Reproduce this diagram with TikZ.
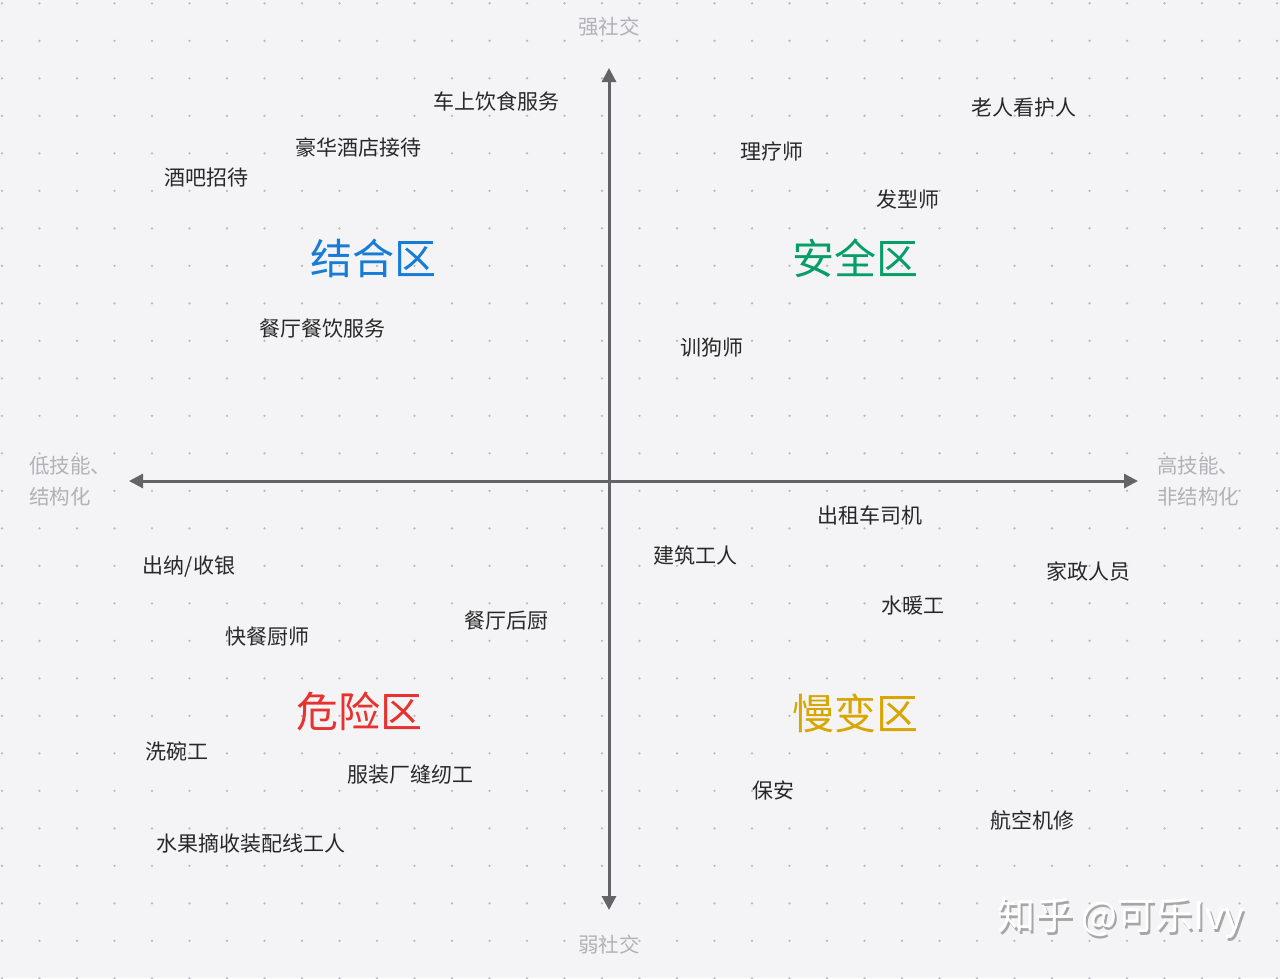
\documentclass[tikz,border=0pt]{standalone}
\usepackage{fontspec}
\setmainfont{Noto Sans CJK SC}
\usepackage{tikz}
\usetikzlibrary{arrows.meta}
\usepackage{xcolor}
\definecolor{bggray}{RGB}{244,244,246}
\definecolor{dotgray}{RGB}{185,185,190}
\definecolor{axisgray}{RGB}{100,100,104}
\definecolor{lblgray}{RGB}{178,178,182}
\definecolor{txtdark}{RGB}{40,40,40}
\definecolor{zoneblue}{RGB}{22,124,214}
\definecolor{zonegreen}{RGB}{6,158,104}
\definecolor{zonered}{RGB}{232,50,46}
\definecolor{zoneyellow}{RGB}{216,166,0}
\tikzset{
  job/.style     ={text=txtdark, font=\fontsize{21}{25}\selectfont, inner sep=0pt},
  zone/.style    ={font=\fontsize{42}{48}\selectfont, inner sep=0pt},
  axislbl/.style ={text=lblgray, font=\fontsize{20.5}{31}\selectfont, inner sep=0pt,
                   align=left},
  axisline/.style={{Triangle[length=14pt,width=14pt]}-{Triangle[length=14pt,width=14pt]},
                   line width=3pt, draw=axisgray},
  wmark/.style   ={font=\fontsize{38}{42}\selectfont, inner sep=0pt},
}

\begin{document}
\begin{tikzpicture}[x=1pt, y=-1pt]
  \useasboundingbox[fill=bggray] (0,0) rectangle (1280,978);
  % dot grid
  \foreach \i in {0,...,34}
    \foreach \j in {0,...,26}
      \fill[dotgray] (2+37.5*\i, 3.3+37.5*\j) circle (1.3);

  % axes
  \coordinate (ytop) at (609,68);
  \coordinate (ybot) at (609,910);
  \coordinate (xlft) at (129,481);
  \coordinate (xrgt) at (1138,481);
  \draw[axisline] (ybot) -- (ytop);
  \draw[axisline] (xlft) -- (xrgt);

  % axis labels
  \node[axislbl]                  (strong) at (609,27)  {强社交};
  \node[axislbl]                  (weak)   at (609,945) {弱社交};
  \node[axislbl, anchor=west]     (lowsk)  at (29,481)  {低技能、\\结构化};
  \node[axislbl, anchor=west]     (highsk) at (1157,481) {高技能、\\非结构化};

  % zones
  \node[zone, text=zoneblue]      (combine) at (373,258) {结合区};
  \node[zone, text=zonegreen]     (safe)    at (855,258) {安全区};
  \node[zone, text=zonered]       (danger)  at (359,711) {危险区};
  \node[zone, text=zoneyellow]    (slow)    at (855,713) {慢变区};

  % jobs, upper left
  \node[job] (train)   at (496,102) {车上饮食服务};
  \node[job] (hotel)   at (358,147) {豪华酒店接待};
  \node[job] (bar)     at (206,178) {酒吧招待};
  \node[job] (dining)  at (322,329) {餐厅餐饮服务};
  % jobs, upper right
  \node[job] (elder)   at (1024,108) {老人看护人};
  \node[job] (physio)  at (772,151) {理疗师};
  \node[job] (hair)    at (908,200) {发型师};
  \node[job] (dog)     at (712,348) {训狗师};
  % jobs, lower right
  \node[job] (taxi)    at (870,515) {出租车司机};
  \node[job] (build)   at (695,555) {建筑工人};
  \node[job] (house)   at (1088,571) {家政人员};
  \node[job] (plumb)   at (913,606) {水暖工};
  \node[job] (guard)   at (773,790) {保安};
  \node[job] (aero)    at (1032,820) {航空机修};
  % jobs, lower left
  \node[job] (cash)    at (189,567) {出纳/收银};
  \node[job] (fastck)  at (267,637) {快餐厨师};
  \node[job] (kitchen) at (506,621) {餐厅后厨};
  \node[job] (dish)    at (177,751) {洗碗工};
  \node[job] (sew)     at (410,775) {服装厂缝纫工};
  \node[job] (fruit)   at (251,843) {水果摘收装配线工人};

  % watermark
  \node[wmark, text=black!35] (wmshadow) at (1123,921) {知乎 @可乐Ivy};
  \node[wmark, text=white]    (wm)       at (1121,918) {知乎 @可乐Ivy};
\end{tikzpicture}
\end{document}
